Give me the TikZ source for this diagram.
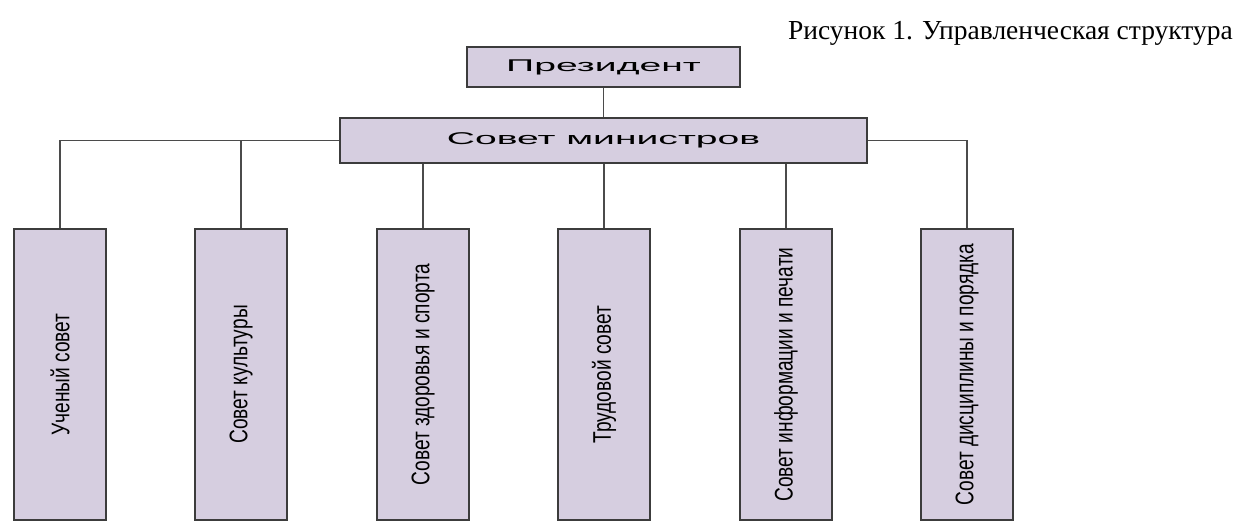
\documentclass[tikz,border=0pt]{standalone}
\usepackage{fontspec}
\setmainfont{Liberation Serif}
\newfontfamily\narrowf[FakeStretch=0.75]{Liberation Sans}
\newfontfamily\widef[FakeStretch=2.3]{Liberation Sans}
\definecolor{boxfill}{RGB}{214,206,224}
\definecolor{boxline}{RGB}{60,60,60}
\definecolor{conn}{RGB}{75,75,75}
\begin{document}
\begin{tikzpicture}[x=1pt,y=-1pt,
  topbox/.style={draw=boxline, fill=boxfill, line width=1.6pt, inner sep=0pt, font=\widef\fontsize{17}{20}\selectfont},
  council/.style={draw=boxline, fill=boxfill, line width=1.6pt, minimum width=92pt, minimum height=291pt, inner sep=0pt, font=\narrowf\fontsize{25.5}{28}\selectfont},
  link/.style={draw=conn, line width=1.3pt}]
\useasboundingbox (0,0) rectangle (1235,525);
\node[anchor=base east, font=\fontsize{27.5}{30}\selectfont, inner sep=0pt] (cap) at (1233,39) {Рисунок 1. Управленческая структура};
\node[topbox, minimum width=273pt, minimum height=40pt] (pres) at (603.5,67) {Президент};
\node[topbox, minimum width=527pt, minimum height=45pt] (sm) at (603.5,140.5) {Совет министров};
\node[council] (b1) at (60,374.5) {\rotatebox{90}{Ученый совет}};
\node[council] (b2) at (241,374.5) {\rotatebox{90}{Совет культуры}};
\node[council] (b3) at (423,374.5) {\rotatebox{90}{Совет здоровья и спорта}};
\node[council] (b4) at (604,374.5) {\rotatebox{90}{Трудовой совет}};
\node[council] (b5) at (786,374.5) {\rotatebox{90}{Совет информации и печати}};
\node[council] (b6) at (967,374.5) {\rotatebox{90}{Совет дисциплины и порядка}};
\draw[link] (pres.south) -- (sm.north);
\draw[link] (sm.west) -| (b1.north);
\draw[link] (b2.north) -- (b2.north |- sm.west);
\draw[link] (sm.east) -| (b6.north);
\draw[link] (b3.north |- sm.south) -- (b3.north);
\draw[link] (b4.north |- sm.south) -- (b4.north);
\draw[link] (b5.north |- sm.south) -- (b5.north);
\end{tikzpicture}
\end{document}
